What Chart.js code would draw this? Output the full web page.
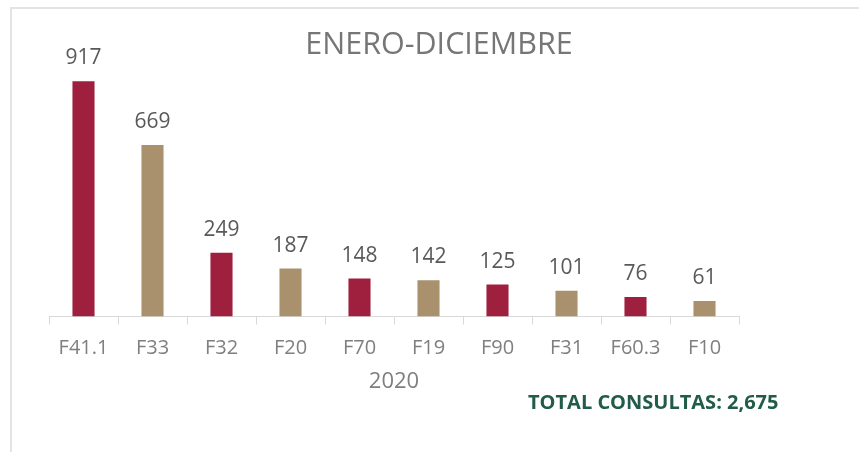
<!DOCTYPE html>
<html>
<head>
<meta charset="utf-8">
<script src="https://cdn.jsdelivr.net/npm/chart.js@4.4.1/dist/chart.umd.min.js"></script>
<style>
    html, body { margin: 0; padding: 0; background: #fff; }
    #wrap { position: relative; width: 859px; height: 452px; overflow: hidden; }
    #frame { position: absolute; left: 10px; top: 7px; width: 900px; height: 500px;
             border-left: 2px solid #e3e3e3; border-top: 2px solid #e3e3e3; }
    canvas { position: absolute; left: 0; top: 0; }
</style>
</head>
<body>
<div id="wrap">
    <div id="frame"></div>
    <canvas id="chart" width="859" height="452"></canvas>
</div>
<script>
const categories = ['F41.1', 'F33', 'F32', 'F20', 'F70', 'F19', 'F90', 'F31', 'F60.3', 'F10'];
const consultas = [917, 669, 249, 187, 148, 142, 125, 101, 76, 61];
const barColors = ['#9f1f3f', '#a8916c'];
const chartTitle = 'ENERO-DICIEMBRE';
const axisTitle = '2020';
const totalText = 'TOTAL CONSULTAS: 2,675';

const FONT = "'Open Sans', sans-serif";

const extras = {
    id: 'extras',
    afterDatasetsDraw(chart) {
        const ctx = chart.ctx;
        const meta = chart.getDatasetMeta(0);
        ctx.save();
        ctx.font = '21px ' + FONT;
        ctx.fillStyle = '#595959';
        ctx.textAlign = 'center';
        ctx.textBaseline = 'middle';
        meta.data.forEach(function (bar, i) {
            ctx.fillText(consultas[i], bar.x, bar.y - 23);
        });

        ctx.font = '30.5px ' + FONT;
        ctx.fillStyle = '#767676';
        ctx.fillText(chartTitle, 439, 45);

        ctx.font = 'bold 20px ' + FONT;
        ctx.fillStyle = '#215c4b';
        ctx.textAlign = 'left';
        ctx.fillText(totalText, 528, 403);
        ctx.restore();
    }
};

new Chart(document.getElementById('chart'), {
    type: 'bar',
    data: {
        labels: categories,
        datasets: [{
            data: consultas,
            backgroundColor: consultas.map((v, i) => barColors[i % 2]),
            categoryPercentage: 1,
            barPercentage: 0.32
        }]
    },
    options: {
        responsive: false,
        animation: false,
        layout: { padding: { left: 49, right: 120, top: 60, bottom: 57 } },
        plugins: {
            legend: { display: false },
            tooltip: { enabled: false }
        },
        scales: {
            x: {
                grid: {
                    offset: true,
                    drawOnChartArea: false,
                    tickLength: 8,
                    color: '#d9d9d9'
                },
                border: { color: '#d9d9d9', width: 1 },
                ticks: {
                    color: '#7f7f7f',
                    font: { family: FONT, size: 20 },
                    padding: 12,
                    maxRotation: 0
                },
                title: {
                    display: true,
                    text: axisTitle,
                    color: '#7f7f7f',
                    font: { family: FONT, size: 22 },
                    padding: { top: -4, bottom: 0 }
                }
            },
            y: {
                display: false,
                min: 0,
                max: 1000
            }
        }
    },
    plugins: [extras]
});
</script>
</body>
</html>
